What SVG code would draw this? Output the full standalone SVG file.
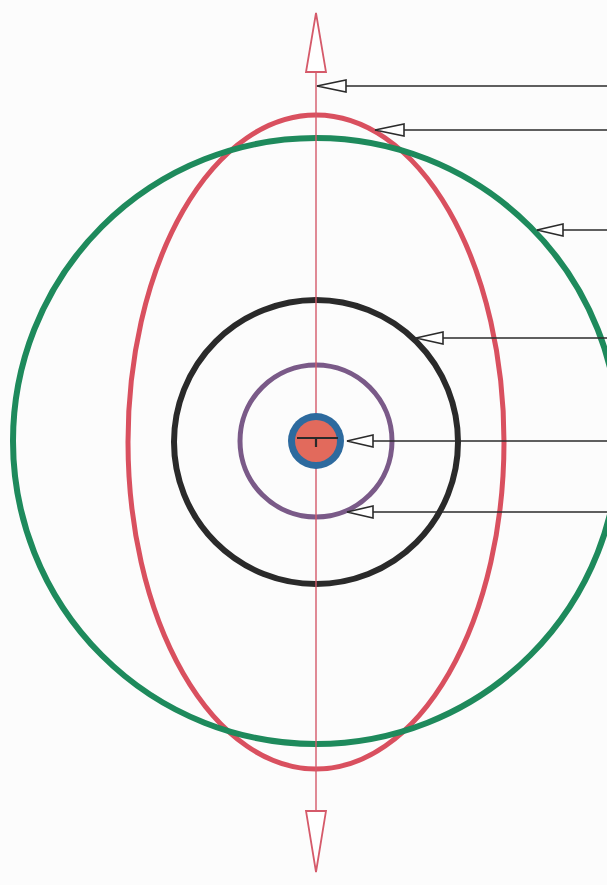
<svg xmlns="http://www.w3.org/2000/svg" width="607" height="885" viewBox="0 0 607 885">
  <style>
    .ring { fill: none; }
    .leader { stroke: #2b2b2b; stroke-width: 1.6; fill: none; }
    .lhead { fill: #ffffff; stroke: #2b2b2b; stroke-width: 1.6; stroke-linejoin: miter; }
    .axis { stroke: #d55a6a; stroke-width: 1.4; fill: none; }
    .ahead { fill: #ffffff; stroke: #d55a6a; stroke-width: 1.8; }
  </style>
  <rect width="607" height="885" fill="#fcfcfc"/>

  <g id="ellipse-red">
    <ellipse class="ring" cx="316" cy="442" rx="188" ry="327" stroke="#d9505f" stroke-width="5"/>
  </g>
  <g id="circle-green">
    <circle class="ring" cx="316" cy="441" r="303" stroke="#1e8a5c" stroke-width="6"/>
  </g>
  <g id="circle-black">
    <circle class="ring" cx="316" cy="442" r="142" stroke="#2a2a2a" stroke-width="6"/>
  </g>
  <g id="circle-purple">
    <circle class="ring" cx="316" cy="441" r="76" stroke="#7a5a88" stroke-width="5"/>
  </g>

  <g id="axis">
    <line class="axis" x1="316" y1="14" x2="316" y2="872"/>
    <polygon class="ahead" points="316,13 326,72 306,72"/>
    <polygon class="ahead" points="316,872 326,811 306,811"/>
  </g>

  <g id="core">
    <circle cx="316" cy="441" r="28" fill="#2d6a9e"/>
    <circle cx="316" cy="441" r="21" fill="#e26a5c"/>
    <path d="M297,438 H338 M316,438 V447" stroke="#2a2a2a" stroke-width="2.2" fill="none"/>
  </g>

  <g id="connectors">
    <line class="leader" x1="317" y1="86" x2="607" y2="86"/>
    <polygon class="lhead" points="317,86 346,80 346,92"/>
    <line class="leader" x1="375" y1="130" x2="607" y2="130"/>
    <polygon class="lhead" points="375,130 404,124 404,136"/>
    <line class="leader" x1="537" y1="230" x2="607" y2="230"/>
    <polygon class="lhead" points="537,230 563,224 563,236"/>
    <line class="leader" x1="416" y1="338" x2="607" y2="338"/>
    <polygon class="lhead" points="416,338 443,332 443,344"/>
    <line class="leader" x1="347" y1="441" x2="607" y2="441"/>
    <polygon class="lhead" points="347,441 373,435 373,447"/>
    <line class="leader" x1="347" y1="512" x2="607" y2="512"/>
    <polygon class="lhead" points="347,512 373,506 373,518"/>
  </g>
</svg>
